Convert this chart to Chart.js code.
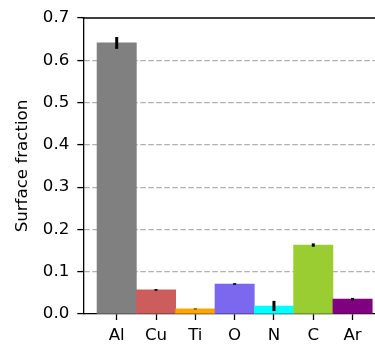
<!DOCTYPE html>
<html>
<head>
<meta charset="utf-8">
<script src="https://cdn.jsdelivr.net/npm/chart.js@4/dist/chart.umd.min.js"></script>
<style>
  html, body { margin: 0; padding: 0; background: #fff; overflow: hidden; width: 375px; height: 346px; }
  canvas { display: block; }
</style>
</head>
<body>
<canvas id="c" width="386" height="346"></canvas>
<script>
const categories = ["Al", "Cu", "Ti", "O", "N", "C", "Ar"];
const fractions = [0.641, 0.057, 0.012, 0.071, 0.019, 0.163, 0.035];
const errors = [0.014, 0.002, 0.001, 0.002, 0.012, 0.004, 0.003];
const barColors = ["#808080", "#cd5c5c", "#ffa500", "#7b68ee", "#00ffff", "#9acd32", "#800080"];
const yTicks = [0.0, 0.1, 0.2, 0.3, 0.4, 0.5, 0.6, 0.7];

const FONT = { family: "'DejaVu Sans', sans-serif", size: 16.67 };

const errorBarPlugin = {
  id: 'errorBars',
  afterDatasetsDraw(chart) {
    const ctx = chart.ctx, xs = chart.scales.x, ys = chart.scales.y;
    ctx.save();
    ctx.strokeStyle = '#000';
    ctx.lineWidth = 3;
    ctx.lineCap = 'butt';
    fractions.forEach((v, i) => {
      const x = xs.getPixelForValue(i);
      ctx.beginPath();
      ctx.moveTo(x, ys.getPixelForValue(v - errors[i]));
      ctx.lineTo(x, ys.getPixelForValue(v + errors[i]));
      ctx.stroke();
    });
    ctx.restore();
  }
};

const topSpinePlugin = {
  id: 'topSpine',
  afterDraw(chart) {
    const { ctx, chartArea } = chart;
    ctx.save();
    ctx.strokeStyle = '#000';
    ctx.lineWidth = 1.3;
    ctx.beginPath();
    ctx.moveTo(chartArea.left - 0.65, chartArea.top);
    ctx.lineTo(chartArea.right, chartArea.top);
    ctx.stroke();
    ctx.restore();
  }
};

new Chart(document.getElementById('c'), {
  type: 'bar',
  data: {
    datasets: [{
      data: categories.map((c, i) => ({ x: i, y: fractions[i] })),
      backgroundColor: barColors,
      borderWidth: 0,
      barPercentage: 1.0,
      categoryPercentage: 1.0
    }]
  },
  options: {
    responsive: false,
    animation: false,
    devicePixelRatio: 1,
    layout: { padding: { top: 14, left: 0, right: 0, bottom: 0 } },
    plugins: { legend: { display: false }, tooltip: { enabled: false } },
    scales: {
      x: {
        type: 'linear',
        offset: false,
        min: -0.85,
        max: 6.85,
        z: 1,
        afterFit(scale) { scale.height = 32; },
        afterBuildTicks(scale) { scale.ticks = categories.map((c, i) => ({ value: i })); },
        ticks: {
          autoSkip: false,
          maxRotation: 0,
          color: '#000',
          font: FONT,
          padding: 6,
          callback: (v) => categories[v]
        },
        grid: { drawOnChartArea: false, offset: false, tickLength: 6, tickColor: '#000', tickWidth: 1.3, tickBorderDash: [] },
        border: { color: '#000', width: 1.3 }
      },
      y: {
        type: 'linear',
        min: 0,
        max: 0.7,
        z: 1,
        afterFit(scale) { scale.width = 83.3; },
        afterBuildTicks(scale) { scale.ticks = yTicks.map(v => ({ value: v })); },
        ticks: {
          color: '#000',
          font: FONT,
          padding: 8,
          callback: (v) => v.toFixed(1)
        },
        grid: {
          color: (c) => (c.tick && (c.tick.value === 0 || c.tick.value === 0.7)) ? 'rgba(0,0,0,0)' : '#b0b0b0',
          lineWidth: 1.2,
          tickLength: 6,
          tickColor: '#000',
          tickWidth: 1.3,
          tickBorderDash: []
        },
        border: { color: '#000', width: 1.3, dash: [5.5, 2.5] },
        title: {
          display: true,
          text: 'Surface fraction',
          color: '#000',
          font: FONT,
          padding: { top: 13, bottom: 0 }
        }
      }
    }
  },
  plugins: [errorBarPlugin, topSpinePlugin]
});
</script>
</body>
</html>
